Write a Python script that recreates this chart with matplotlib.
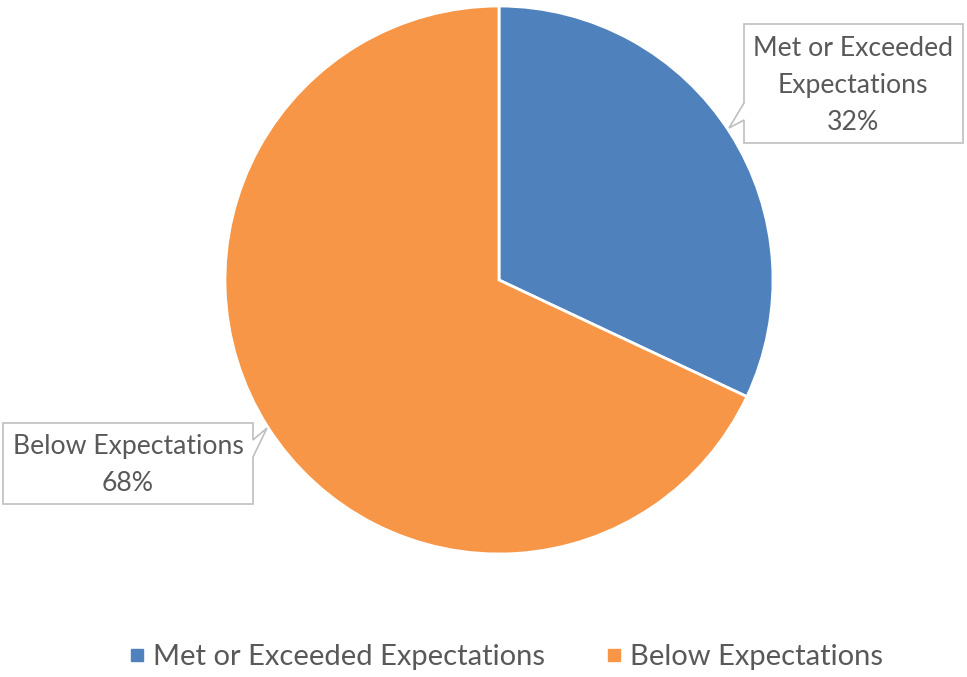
import matplotlib.pyplot as plt
from matplotlib.patches import Polygon
from matplotlib.lines import Line2D

labels = ['Met or Exceeded Expectations', 'Below Expectations']
values = [32, 68]
colors = ['#4F81BD', '#F79646']
callout_text = ['Met or Exceeded\nExpectations\n32%', 'Below Expectations\n68%']

W, H = 967, 677
plt.rcParams['font.family'] = ['Lato', 'DejaVu Sans']
text_color = '#595959'

fig = plt.figure(figsize=(W / 100, H / 100), dpi=100)
ax = fig.add_axes([0, 0, 1, 1])
ax.set_xlim(0, W)
ax.set_ylim(0, H)
ax.set_aspect('equal')
ax.axis('off')

ax.pie(values, colors=colors, startangle=90, counterclock=False,
       center=(499, H - 280), radius=274,
       wedgeprops=dict(edgecolor='white', linewidth=2))
ax.set_xlim(0, W)
ax.set_ylim(0, H)


def px(pts):
    return [(x, H - y) for x, y in pts]


# callout boxes (pixel coordinates of outline, with pointer)
right_box = px([(744, 24), (963, 24), (963, 143), (744, 143), (744, 120),
                (729, 128), (744, 103)])
left_box = px([(3, 423), (253, 423), (253, 440), (267, 428), (253, 457),
               (253, 504), (3, 504)])
for poly in (right_box, left_box):
    ax.add_patch(Polygon(poly, closed=True, facecolor='white',
                         edgecolor='#BFBFBF', linewidth=1.2, zorder=5))

ax.text(853, H - 85, callout_text[0], ha='center', va='center',
        fontsize=19.2, color=text_color, linespacing=1.6, zorder=6)
ax.text(128, H - 465, callout_text[1], ha='center', va='center',
        fontsize=19.2, color=text_color, linespacing=1.6, zorder=6)

handles = [Line2D([], [], marker='s', linestyle='none', markersize=9,
                  markerfacecolor=c, markeredgecolor=c) for c in colors]
fig.legend(handles, labels, loc='center', bbox_to_anchor=(505 / W, 1 - 657 / H),
           ncol=2, frameon=False, fontsize=21, labelcolor=text_color,
           handletextpad=0.2, columnspacing=2.0, handlelength=0.7)

plt.savefig('out.png', dpi=100)
plt.close()
